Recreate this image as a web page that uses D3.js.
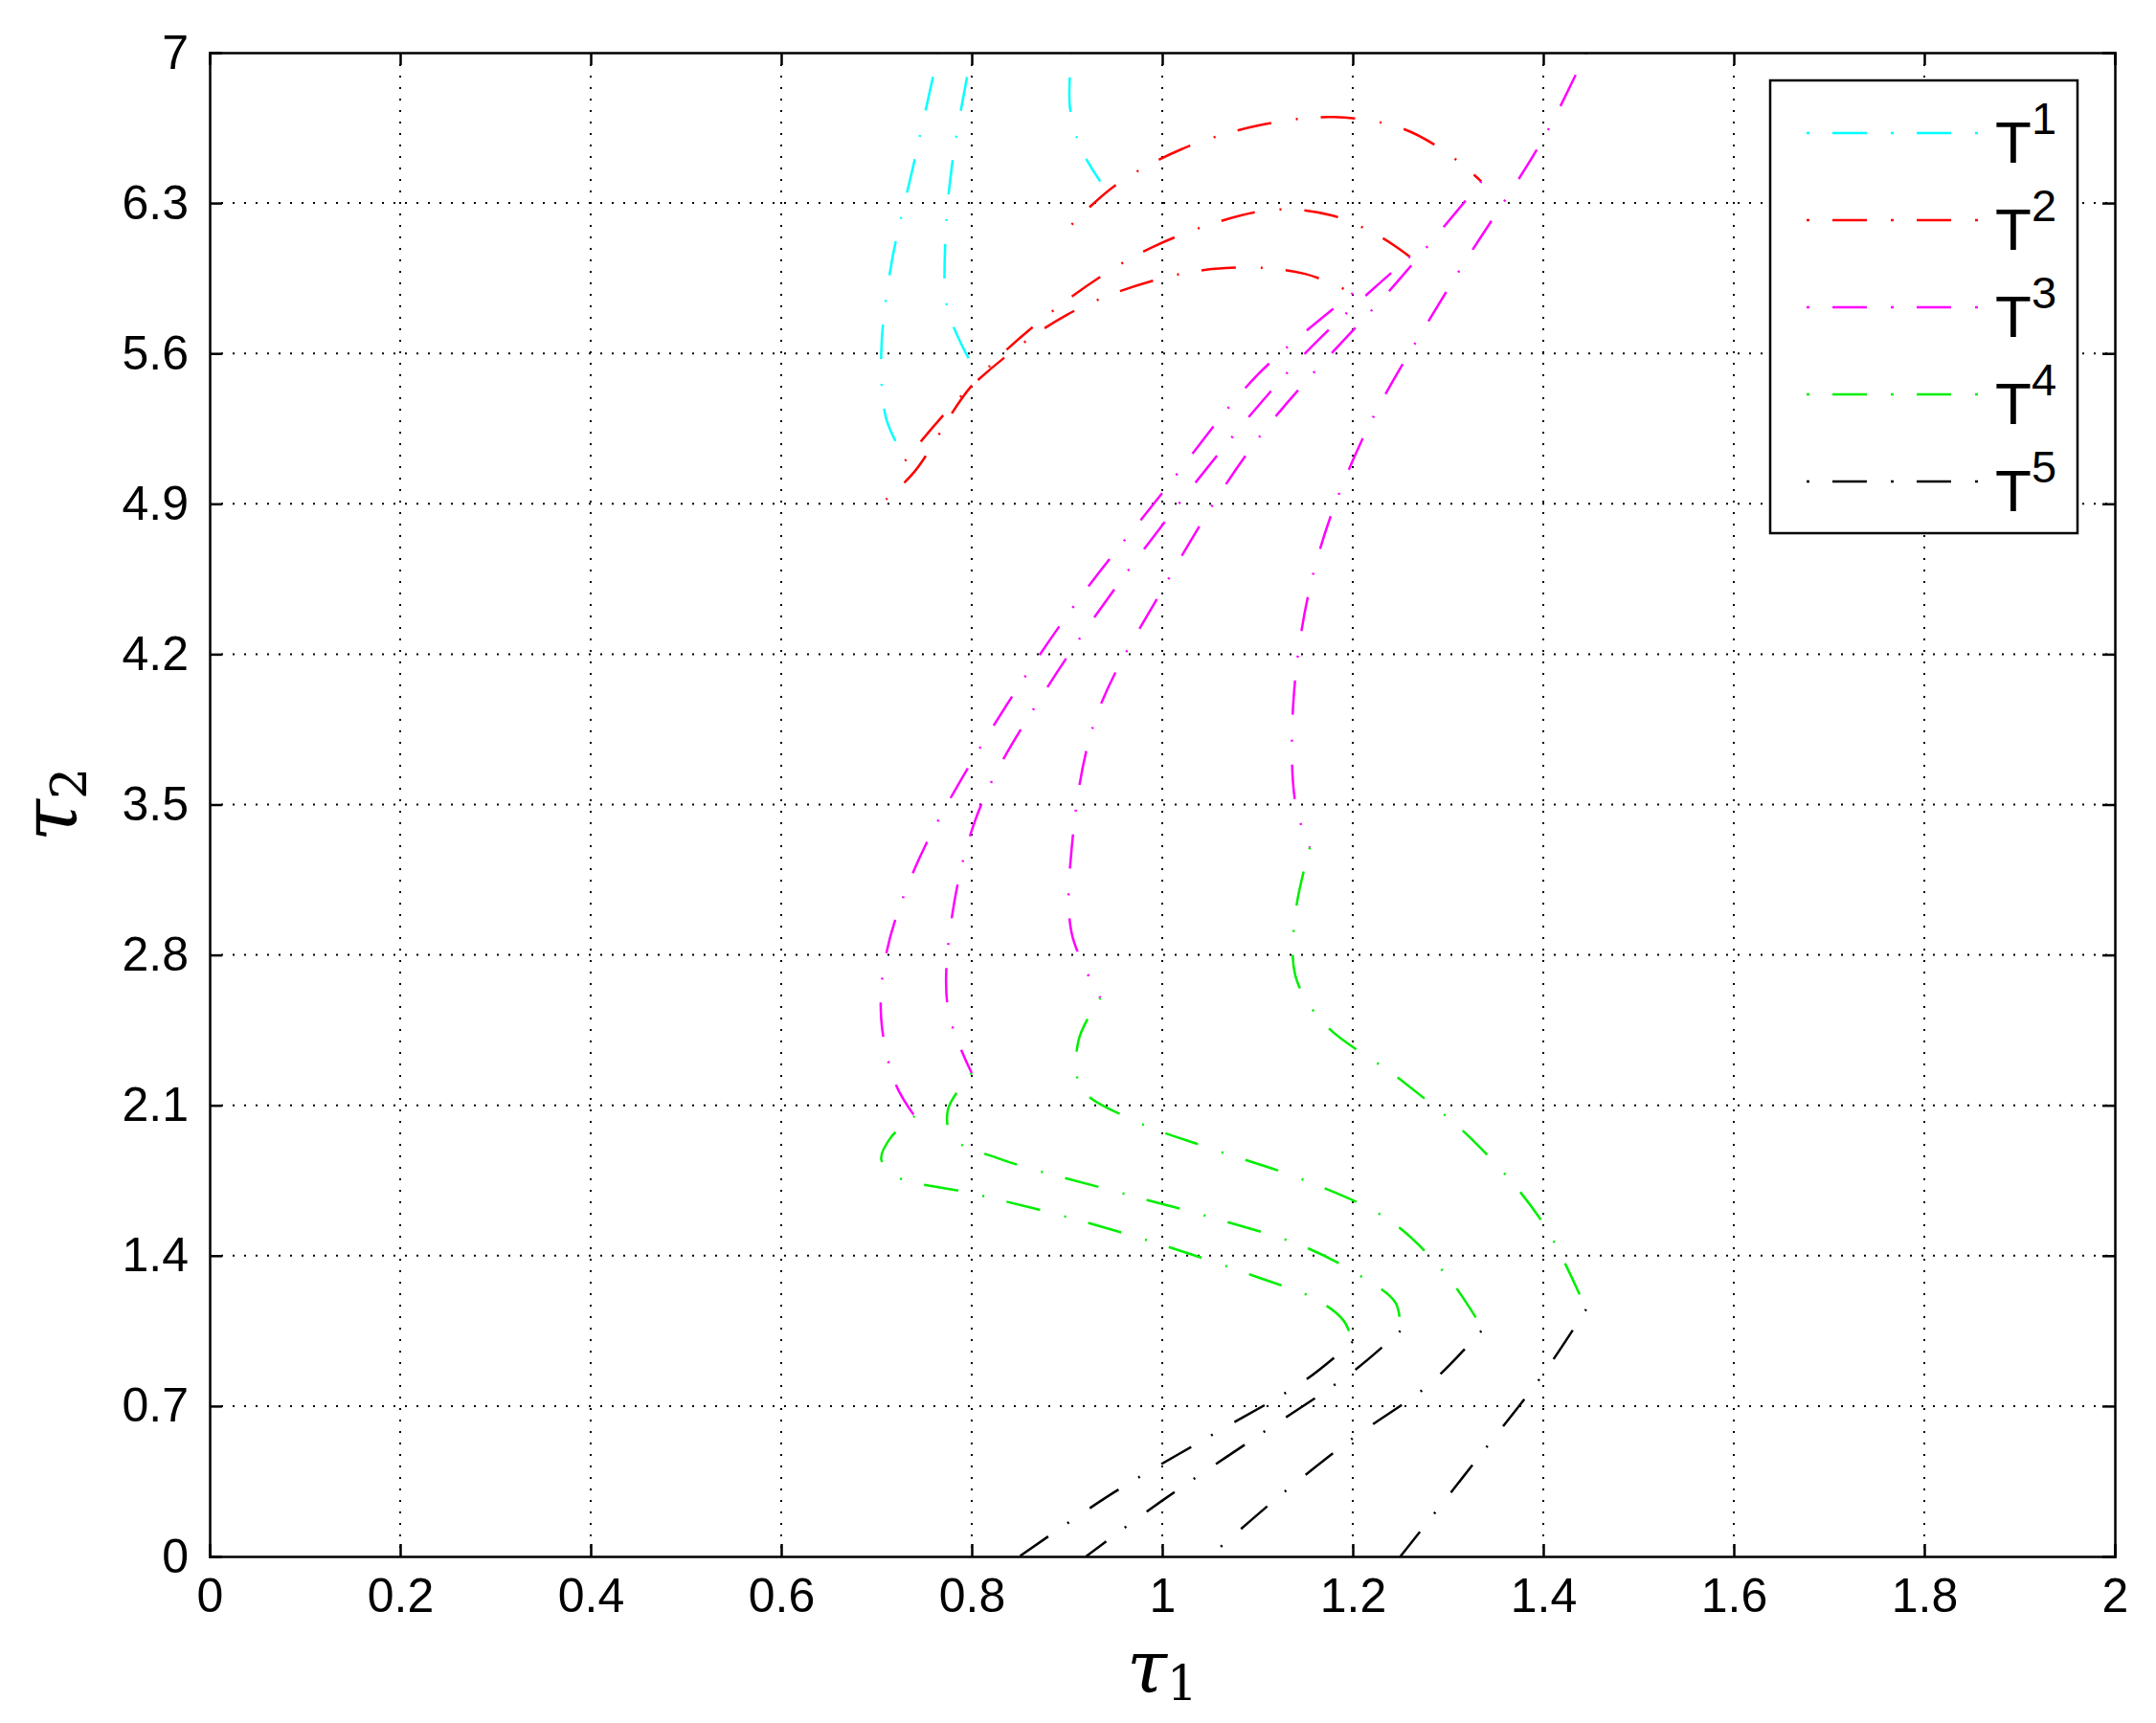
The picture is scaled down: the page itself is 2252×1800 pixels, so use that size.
<!DOCTYPE html>
<html><head><meta charset="utf-8">
<script src="https://cdn.jsdelivr.net/npm/d3@7"></script>
<style>body{margin:0;background:#fff}</style></head>
<body><svg id="c" width="2252" height="1800"></svg>
<script>
const xTicks=[0,0.2,0.4,0.6,0.8,1,1.2,1.4,1.6,1.8,2];
const yTicks=[0,0.7,1.4,2.1,2.8,3.5,4.2,4.9,5.6,6.3,7];
const seriesNames=["T1","T2","T3","T4","T5"];
const seriesColors=["#00ffff","#ff0000","#ff00ff","#00ee00","#000000"];
const T1=[
 [[0.765,7],[0.74,6.5],[0.715,6],[0.705,5.6],[0.71,5.3],[0.725,5.15]],
 [[0.80,7],[0.78,6.5],[0.772,6.1],[0.775,5.8],[0.80,5.55]],
 [[0.905,7],[0.903,6.75],[0.915,6.55],[0.935,6.4]]];
const T2=[
 [[0.905,6.2],[0.95,6.38],[1.02,6.55],[1.1,6.66],[1.18,6.7],[1.25,6.65],[1.3,6.53],[1.335,6.4]],
 [[0.71,4.92],[0.74,5.05],[0.8,5.45],[0.88,5.78],[0.97,6.05],[1.05,6.2],[1.12,6.27],[1.18,6.24],[1.23,6.14],[1.26,6.05]],
 [[0.73,5.1],[0.8,5.45],[0.9,5.78],[1.0,5.95],[1.08,6.0],[1.15,5.97],[1.2,5.88]]];
const T3=[
 [[1.2,5.88],[1.1,5.5],[1.0,4.95],[0.9,4.38],[0.8,3.7],[0.74,3.2],[0.71,2.8],[0.705,2.5],[0.72,2.2],[0.74,2.05]],
 [[1.26,6.05],[1.15,5.6],[1.0,4.8],[0.88,4.05],[0.81,3.5],[0.78,3.0],[0.775,2.55],[0.8,2.25]],
 [[1.335,6.4],[1.25,5.95],[1.1,5.2],[1.0,4.5],[0.93,3.9],[0.905,3.3],[0.905,2.9],[0.935,2.6]],
 [[1.445,7.0],[1.4,6.6],[1.3,5.9],[1.21,5.2],[1.16,4.6],[1.138,4.0],[1.14,3.5],[1.155,3.3]]];
const T4=[
 [[0.74,2.05],[0.715,1.95],[0.705,1.85],[0.72,1.77],[0.8,1.69],[0.9,1.58],[1.0,1.45],[1.1,1.3],[1.16,1.2],[1.19,1.1],[1.2,1.0]],
 [[0.8,2.25],[0.775,2.08],[0.78,1.95],[0.83,1.85],[0.95,1.7],[1.05,1.58],[1.15,1.44],[1.21,1.3],[1.245,1.18],[1.25,1.05]],
 [[0.935,2.6],[0.912,2.4],[0.915,2.18],[0.97,2.03],[1.05,1.9],[1.15,1.75],[1.24,1.56],[1.3,1.3],[1.335,1.07]],
 [[1.155,3.3],[1.14,3.0],[1.14,2.7],[1.17,2.48],[1.25,2.22],[1.33,1.92],[1.4,1.55],[1.445,1.15]]];
const T5=[
 [[1.2,1.0],[1.15,0.82],[1.05,0.56],[0.95,0.3],[0.85,0]],
 [[1.25,1.05],[1.2,0.86],[1.1,0.56],[1.0,0.26],[0.92,0]],
 [[1.335,1.05],[1.28,0.8],[1.2,0.55],[1.12,0.27],[1.05,0]],
 [[1.445,1.15],[1.4,0.85],[1.33,0.45],[1.25,0]]];
const allSeries=[T1,T2,T3,T4,T5];

const L=219,R=2209,Tp=55,B=1626;
const svg=d3.select("#c");
const x=d3.scaleLinear().domain([0,2]).range([L,R]);
const y=d3.scaleLinear().domain([0,7]).range([B,Tp]);
const font="'Liberation Sans',Arial,sans-serif";
const g=svg.append("g");
xTicks.slice(1,-1).forEach(t=>g.append("line").attr("x1",x(t)).attr("x2",x(t)).attr("y1",Tp).attr("y2",B).attr("stroke","#000").attr("stroke-width",2).attr("stroke-dasharray","2,10"));
yTicks.slice(1,-1).forEach(t=>g.append("line").attr("y1",y(t)).attr("y2",y(t)).attr("x1",L).attr("x2",R).attr("stroke","#000").attr("stroke-width",2).attr("stroke-dasharray","2,10"));
const line=d3.line().x(d=>x(d[0])).y(d=>y(d[1])).curve(d3.curveCatmullRom);
const dash="2,24,36,26";
allSeries.forEach((s,i)=>s.forEach(c=>svg.append("path").attr("d",line(c)).attr("fill","none").attr("stroke",seriesColors[i]).attr("stroke-width",2.5).attr("stroke-dasharray",dash)));
const ax=svg.append("g");
const xb=d3.axisBottom(x).tickValues(xTicks).tickSize(-13).tickPadding(22).tickFormat(d3.format("~g"));
const xt=d3.axisTop(x).tickValues(xTicks).tickSize(-13).tickFormat("");
const yl=d3.axisLeft(y).tickValues(yTicks).tickSize(-13).tickPadding(22).tickFormat(d3.format("~g"));
const yr=d3.axisRight(y).tickValues(yTicks).tickSize(-13).tickFormat("");
[[xb,`translate(0,${B})`],[xt,`translate(0,${Tp})`],[yl,`translate(${L},0)`],[yr,`translate(${R},0)`]].forEach(([a,t])=>{
 const gg=ax.append("g").attr("transform",t).call(a);
 gg.selectAll("path,line").attr("stroke","#000").attr("stroke-width",2.5);
 gg.selectAll("text").attr("font-family",font).attr("font-size",50).attr("fill","#000");
});
svg.append("text").attr("x",(L+R)/2).attr("y",1768).attr("text-anchor","middle").attr("font-family","'DejaVu Serif',serif").attr("font-style","italic").attr("font-size",76).text("τ").append("tspan").attr("font-style","normal").attr("font-size",50).attr("dy",8).text("1");
svg.append("text").attr("transform",`translate(80,${(Tp+B)/2}) rotate(-90)`).attr("text-anchor","middle").attr("font-family","'DejaVu Serif',serif").attr("font-style","italic").attr("font-size",80).text("τ").append("tspan").attr("font-style","normal").attr("font-size",52).attr("dy",10).text("2");
const lx=1849,ly=84,lw=321,lh=473;
svg.append("rect").attr("x",lx).attr("y",ly).attr("width",lw).attr("height",lh).attr("fill","#fff").attr("stroke","#000").attr("stroke-width",2.5);
seriesNames.forEach((n,i)=>{
 const yy=139+i*91;
 svg.append("line").attr("x1",lx+38).attr("x2",lx+230).attr("y1",yy).attr("y2",yy).attr("stroke",seriesColors[i]).attr("stroke-width",2.5).attr("stroke-dasharray","3,24,36,25");
 const t=svg.append("text").attr("x",2084).attr("y",yy+31).attr("font-family",font).attr("font-size",62).text("T");
 t.append("tspan").attr("font-size",47).attr("dy",-30).text(n.slice(1));
});
</script></body></html>
